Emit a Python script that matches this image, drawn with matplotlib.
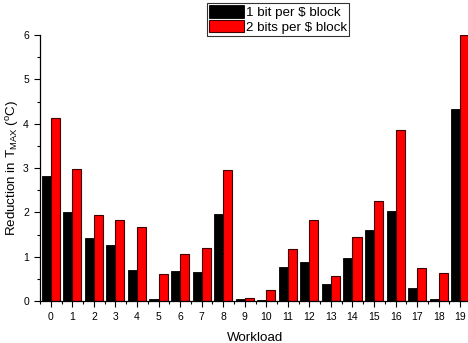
import matplotlib
matplotlib.use('Agg')
import matplotlib.pyplot as plt
import numpy as np

plt.rcParams['font.family'] = ['Liberation Sans', 'DejaVu Sans']
plt.rcParams['mathtext.fontset'] = 'custom'
plt.rcParams['mathtext.rm'] = 'Liberation Sans'

workloads = [str(i) for i in range(20)]
one_bit = [2.82, 2.00, 1.41, 1.27, 0.70, 0.05, 0.68, 0.66, 1.96, 0.05,
           0.015, 0.77, 0.87, 0.38, 0.98, 1.60, 2.02, 0.30, 0.045, 4.33]
two_bits = [4.13, 2.97, 1.94, 1.82, 1.67, 0.62, 1.06, 1.20, 2.95, 0.075,
            0.25, 1.18, 1.82, 0.56, 1.44, 2.26, 3.86, 0.74, 0.63, 6.0]

fig = plt.figure(figsize=(4.68, 3.43), dpi=100)
ax = fig.add_axes([40 / 468, 42 / 343, 431 / 468, 266 / 343])

x = np.arange(len(workloads))
w = 0.42
ax.bar(x - w / 2, one_bit, w, color='black', edgecolor='black', linewidth=0.6,
       label='1 bit per $ block')
ax.bar(x + w / 2, two_bits, w, color='#ff0000', edgecolor='#400000', linewidth=0.8,
       label='2 bits per $ block')

ax.set_xlim(-0.5, 19.5)
ax.set_ylim(0, 6)
ax.set_xticks(x)
ax.set_xticklabels(workloads)
ax.set_xticks(np.arange(-0.5, 20, 1), minor=True)
ax.set_yticks(range(7))
ax.set_yticks(np.arange(0.5, 6, 1), minor=True)
ax.tick_params(which='major', direction='out', length=4, width=0.8, labelsize=7.5, pad=4)
ax.tick_params(which='minor', direction='out', length=2.5, width=0.8)

for side in ['top', 'right']:
    ax.spines[side].set_visible(False)
for side in ['left', 'bottom']:
    ax.spines[side].set_linewidth(0.9)

ax.set_xlabel('Workload', fontsize=9.6, labelpad=7)
ax.set_ylabel(r'Reduction in T$_{\mathrm{MAX}}$ ($^{\mathrm{o}}$C)', fontsize=9.6, labelpad=1.5)

leg = fig.legend(loc='upper left', bbox_to_anchor=(207 / 468, 1 - 3 / 343),
                 fontsize=9.6, frameon=True, fancybox=False, edgecolor='black',
                 handlelength=2.6, handleheight=1.1, handletextpad=0.2,
                 labelspacing=0.05, borderpad=0.15, borderaxespad=0)
leg.get_frame().set_linewidth(0.8)

fig.savefig('out.png', dpi=100)
